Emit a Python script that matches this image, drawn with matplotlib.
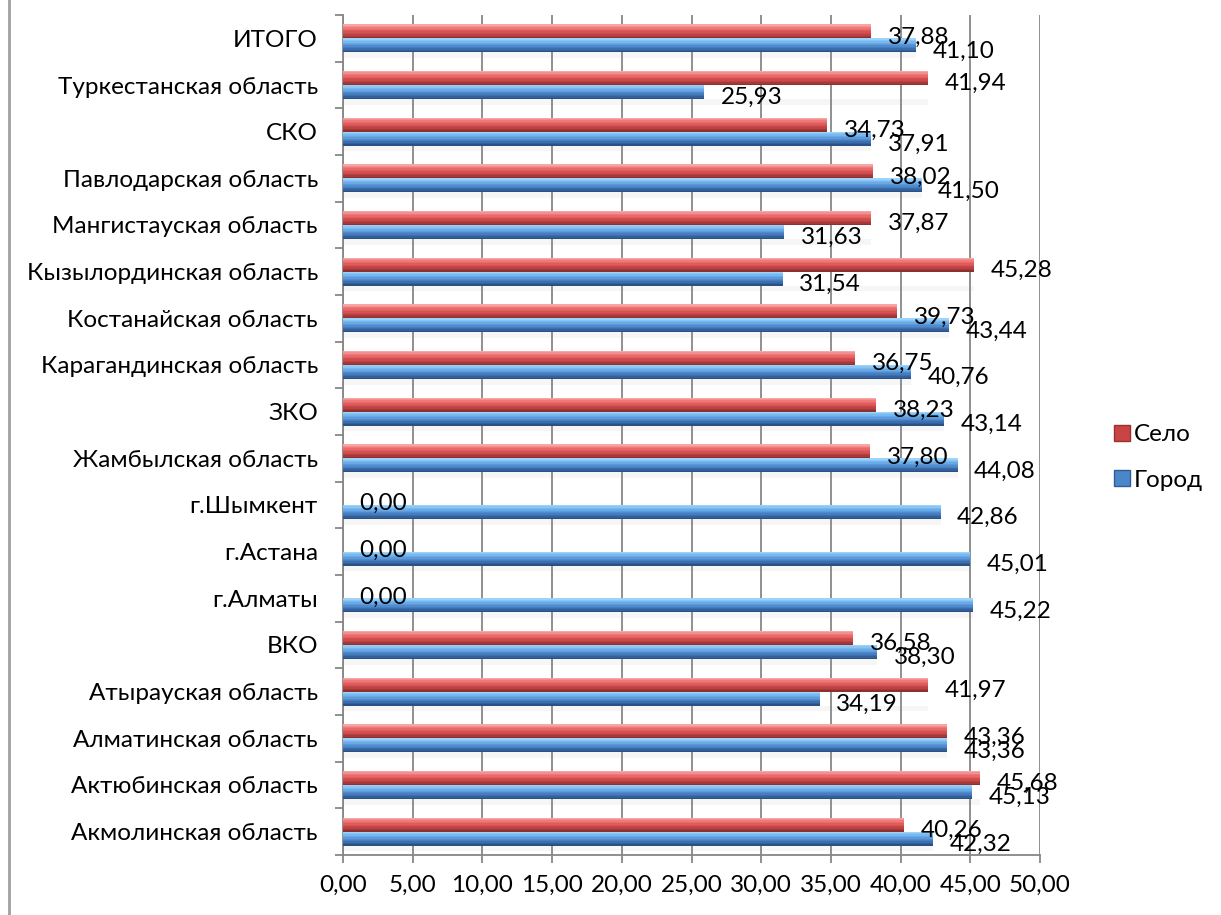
import matplotlib
matplotlib.use("Agg")
from matplotlib import pyplot as plt
from matplotlib import colors
from matplotlib.lines import Line2D
import numpy as np

categories = [
    "Акмолинская область", "Актюбинская область", "Алматинская область",
    "Атырауская область", "ВКО", "г.Алматы", "г.Астана", "г.Шымкент",
    "Жамбылская область", "ЗКО", "Карагандинская область",
    "Костанайская область", "Кызылординская область",
    "Мангистауская область", "Павлодарская область", "СКО",
    "Туркестанская область", "ИТОГО",
]
selo = [40.26, 45.68, 43.36, 41.97, 36.58, 0.00, 0.00, 0.00, 37.80,
        38.23, 36.75, 39.73, 45.28, 37.87, 38.02, 34.73, 41.94, 37.88]
gorod = [42.32, 45.13, 43.36, 34.19, 38.30, 45.22, 45.01, 42.86, 44.08,
         43.14, 40.76, 43.44, 31.54, 31.63, 41.50, 37.91, 25.93, 41.10]
xticks = np.arange(0, 51, 5)

plt.rcParams["font.family"] = ["Lato", "DejaVu Sans"]
FS = 17.5

fig = plt.figure(figsize=(12.21, 9.15), dpi=100)
ax = fig.add_axes([0.2809, 0.0656, 0.5709, 0.918])

y = np.arange(len(categories))
h = 0.3

def shaded_bars(vals, offset, stops):
    # fake the glossy excel bevel: thin strips going from light (top) to dark (bottom)
    cmap = colors.LinearSegmentedColormap.from_list("bevel", stops)
    n = 10
    for k in range(n):
        c = cmap(k / (n - 1))
        ax.barh(y + offset + h / 2 - h * (k + 0.5) / n, vals, height=h / n * 1.05,
                color=c, linewidth=0, zorder=3)

# faint shadow under each pair
ax.barh(y - 0.15 - h * 0.5 - 0.06, np.maximum(selo, gorod), height=0.12,
        color="#f6f6f6", zorder=0.3)

shaded_bars(selo, 0.15, ["#f7a5a5", "#ee7373", "#dd5555", "#c04444", "#8e3030"])
shaded_bars(gorod, -0.15, ["#9bd3fa", "#72b4ee", "#5592d6", "#3e72b4", "#2a5185"])

for i in range(len(categories)):
    ax.annotate(f"{selo[i]:.2f}".replace(".", ","), (selo[i], y[i] + 0.15),
                xytext=(12, -4), textcoords="offset points", va="center",
                ha="left", fontsize=FS, zorder=6)
    ax.annotate(f"{gorod[i]:.2f}".replace(".", ","), (gorod[i], y[i] - 0.15),
                xytext=(12, -4), textcoords="offset points", va="center",
                ha="left", fontsize=FS, zorder=6)

ax.set_xlim(0, 50)
ax.set_ylim(-0.5, len(categories) - 0.5)
ax.set_xticks(xticks)
ax.set_xticklabels([f"{v:.2f}".replace(".", ",") for v in xticks], fontsize=FS)
ax.set_yticks(y)
ax.set_yticklabels(categories, fontsize=FS)
ax.set_yticks(np.arange(-0.5, len(categories)), minor=True)
ax.tick_params(axis="y", which="major", length=0, pad=18)
ax.tick_params(axis="y", which="minor", length=6, width=1.3, color="#878787")
ax.tick_params(axis="x", length=6, width=1.3, color="#878787", pad=8)

ax.set_axisbelow(True)
ax.grid(axis="x", color="#878787", linewidth=1.3)
for s in ["top", "right"]:
    ax.spines[s].set_visible(False)
for s in ["left", "bottom"]:
    ax.spines[s].set_color("#878787")
    ax.spines[s].set_linewidth(1.3)

handles = [
    Line2D([], [], marker="s", linestyle="none", markersize=12,
           markerfacecolor="#c94444", markeredgecolor="#9a3030", label="Село"),
    Line2D([], [], marker="s", linestyle="none", markersize=12,
           markerfacecolor="#4a86c8", markeredgecolor="#2e5e95", label="Город"),
]
fig.legend(handles=handles, loc="center left", bbox_to_anchor=(0.893, 0.5),
           frameon=False, fontsize=FS, handletextpad=0.1, labelspacing=1.0,
           handlelength=0.8)

# grey line on the left edge of the chart frame
fig.add_artist(Line2D([0.0074, 0.0074], [0, 1], color="#a0a0a0", linewidth=2,
                      transform=fig.transFigure))

fig.savefig("out.png", dpi=100)
